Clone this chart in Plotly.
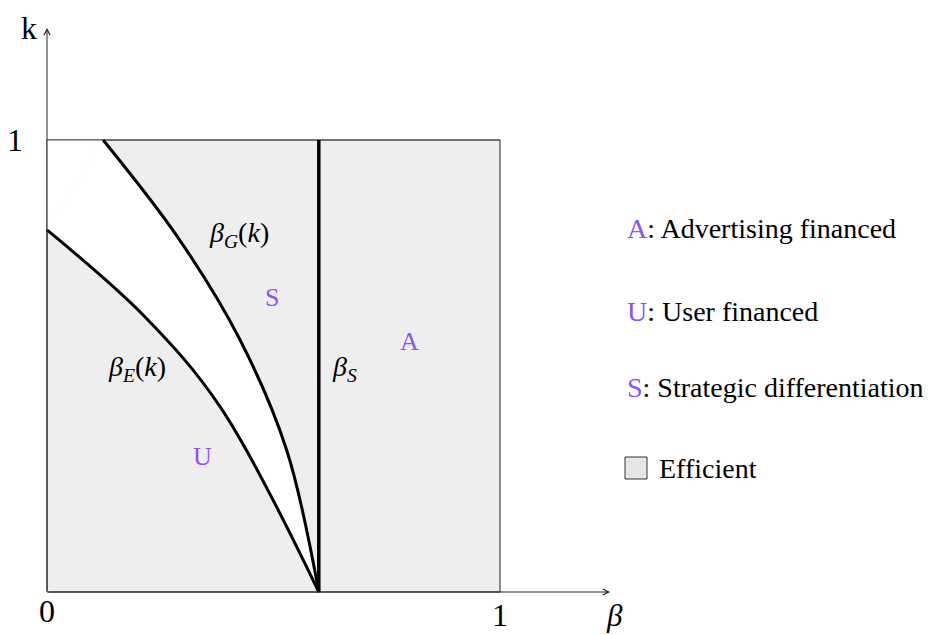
import plotly.graph_objects as go

# Threshold curves in the (beta, k) plane
K_G = [1.0, 0.783, 0.558, 0.314, 0.0]
BETA_G = [0.124, 0.290, 0.426, 0.529, 0.6]

K_E = [0.801, 0.609, 0.410, 0.0]
BETA_E = [0.0, 0.216, 0.382, 0.6]

BETA_S = 0.6

REGION_LABELS = ["S", "A", "U"]
REGION_X = [0.497, 0.80, 0.344]
REGION_Y = [0.652, 0.555, 0.299]

LEGEND_KEYS = ["A", "U", "S"]
LEGEND_TEXT = [": Advertising financed", ": User financed", ": Strategic differentiation"]

PURPLE = "#8c52ff"
FILL = "#eeeeee"
FONT = "Liberation Serif"

W, H = 933, 635
OX, OY = 47, 592           # pixel position of the origin
SX, SY = 453, 452          # pixels per unit

x_range = [-OX / SX, (W - OX) / SX]
y_range = [-(H - OY) / SY, OY / SY]

fig = go.Figure()

# efficient region: unit square, grey
fig.add_shape(type="rect", x0=0, y0=0, x1=1, y1=1,
              fillcolor=FILL, line=dict(color="#222222", width=1), layer="below")

spl = dict(shape="spline", smoothing=1.0)

# inefficient (white) region: corner triangle plus the band between beta_E and beta_G
fig.add_trace(go.Scatter(x=[0, BETA_G[0], 0, 0], y=[1, 1, K_E[0], 1], mode="lines",
                         fill="toself", fillcolor="white", line=dict(width=0),
                         hoverinfo="skip", showlegend=False))
fig.add_trace(go.Scatter(x=BETA_E, y=K_E, mode="lines", line=dict(width=0, **spl),
                         hoverinfo="skip", showlegend=False))
fig.add_trace(go.Scatter(x=BETA_G, y=K_G, mode="lines", line=dict(width=0, **spl),
                         fill="tonextx", fillcolor="white",
                         hoverinfo="skip", showlegend=False))
# redraw top edge over the white patch
fig.add_trace(go.Scatter(x=[0, 1], y=[1, 1], mode="lines",
                         line=dict(color="#555555", width=1),
                         hoverinfo="skip", showlegend=False))

fig.add_trace(go.Scatter(x=BETA_G, y=K_G, mode="lines",
                         line=dict(color="black", width=3, **spl), showlegend=False))
fig.add_trace(go.Scatter(x=BETA_E, y=K_E, mode="lines",
                         line=dict(color="black", width=3, **spl), showlegend=False))
fig.add_trace(go.Scatter(x=[BETA_S, BETA_S], y=[0, 1], mode="lines",
                         line=dict(color="black", width=3.5), showlegend=False))

# axes with arrows
ax_end_x, ax_end_y = 1.243, 1.248
fig.add_annotation(x=ax_end_x, y=0, ax=0, ay=0, xref="x", yref="y", axref="x", ayref="y",
                   showarrow=True, arrowhead=5, arrowsize=1.2, arrowwidth=1, arrowcolor="#222222", text="")
fig.add_annotation(x=0, y=ax_end_y, ax=0, ay=0, xref="x", yref="y", axref="x", ayref="y",
                   showarrow=True, arrowhead=5, arrowsize=1.2, arrowwidth=1, arrowcolor="#222222", text="")

def txt(x, y, s, size=28, color="black", xanchor="center", yanchor="middle"):
    fig.add_annotation(x=x, y=y, text=s, showarrow=False, xanchor=xanchor, yanchor=yanchor,
                       font=dict(family=FONT, size=size, color=color))

# axis labels and ticks
txt(-0.04, 1.248, "k", size=32)
txt(-0.07, 1.0, "1", size=32)
txt(0.0, -0.043, "0", size=32)
txt(1.0, y_range[0], "1", size=32, yanchor="bottom")
txt(1.253, y_range[0], "<i>β</i>", size=31, yanchor="bottom")

# curve labels
txt(0.424, 0.792, "<i>β</i><sub><i>G</i></sub>(<i>k</i>)", size=28)
txt(0.199, 0.495, "<i>β</i><sub><i>E</i></sub>(<i>k</i>)", size=28)
txt(0.656, 0.495, "<i>β</i><sub><i>S</i></sub>", size=28)

# region letters
for lab, x, y in zip(REGION_LABELS, REGION_X, REGION_Y):
    txt(x, y, lab, size=26, color=PURPLE)

# key on the right
leg_x = (625 - OX) / SX
leg_y = [(OY - 228) / SY, (OY - 311) / SY, (OY - 387) / SY]
for key, t, y in zip(LEGEND_KEYS, LEGEND_TEXT, leg_y):
    txt(leg_x, y, f"<span style='color:{PURPLE}'>{key}</span>{t}", size=28, xanchor="left")

ey = (OY - 468) / SY
fig.add_shape(type="rect", x0=leg_x, x1=leg_x + 22 / SX, y0=ey - 11 / SY, y1=ey + 11 / SY,
              fillcolor="#e6e6e6", line=dict(color="#333333", width=1))
txt(leg_x + 32 / SX, ey, "Efficient", size=28, xanchor="left")

fig.update_layout(
    width=W, height=H, margin=dict(l=0, r=0, t=0, b=0),
    paper_bgcolor="white", plot_bgcolor="white",
    xaxis=dict(range=x_range, visible=False, fixedrange=True),
    yaxis=dict(range=y_range, visible=False, fixedrange=True),
)

fig.write_html("out.html")
